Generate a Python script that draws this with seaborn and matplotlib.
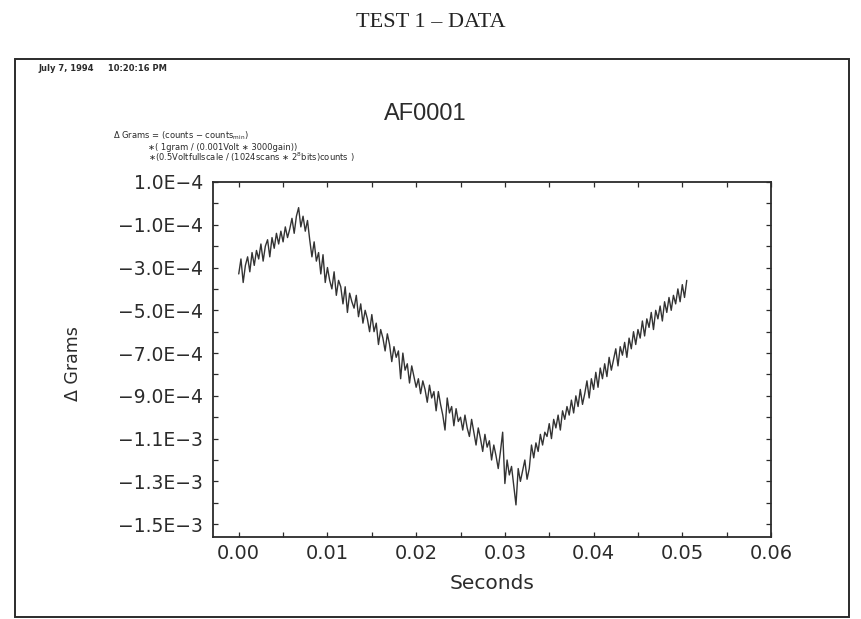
import numpy as np
import pandas as pd
import seaborn as sns
import matplotlib.pyplot as plt

# sampled balance signal, in units of 1e-4 grams, one value every 0.25 ms
sample_period = 0.00025
delta_grams_e4 = [
    -3.3, -2.6, -3.7, -2.9, -2.5, -3.2, -2.3, -2.9, -2.2, -2.6,
    -1.9, -2.7, -2.0, -1.7, -2.5, -1.6, -2.1, -1.4, -1.9, -1.3,
    -1.8, -1.1, -1.6, -1.2, -0.7, -1.4, -0.6, -0.2, -1.1,
    -0.6, -1.3, -0.8, -1.7, -2.5, -1.8, -2.7, -2.3, -3.3, -2.4, -3.7, -3.0,
    -3.6, -4.0, -3.2, -4.3, -3.6, -3.9, -4.7, -3.9, -5.1, -4.2,
    -4.6, -4.9, -4.3, -5.3, -4.7, -5.6, -5.0, -5.4, -6.0, -5.2,
    -6.0, -5.6, -6.6, -5.9, -6.3, -6.9, -6.1, -6.6, -7.4, -6.7,
    -7.2, -6.9, -8.2, -7.0, -7.8, -7.5, -8.4, -7.6, -8.1, -8.6,
    -8.2, -8.9, -8.3, -8.7, -9.3, -8.5, -9.1, -8.8, -9.7, -8.8,
    -9.4, -9.9, -10.6, -9.1, -9.8, -9.5, -10.4, -9.6, -10.2, -10.0,
    -10.6, -9.9, -10.5, -10.9, -10.1, -10.7, -11.3, -10.5, -11.0, -11.6,
    -10.8, -11.4, -11.1, -12.0, -11.3, -11.8, -12.4, -11.6, -10.7, -13.1,
    -12.0, -12.7, -12.3, -13.2, -14.1, -12.4, -13.0, -12.5, -12.0, -12.9, -12.4,
    -11.3, -11.9, -11.2, -11.6, -10.8, -11.3, -10.7, -10.9, -10.3, -11.0,
    -10.1, -10.5, -9.9, -10.6, -9.7, -10.1, -9.5, -9.9, -9.2, -9.8,
    -9.0, -9.5, -8.7, -9.4, -8.9, -8.3, -9.1, -8.2, -8.7, -7.9,
    -8.6, -7.7, -8.2, -7.5, -8.1, -7.2, -7.8, -7.3, -6.8, -7.6,
    -6.7, -7.1, -6.5, -7.2, -6.3, -6.8, -6.0, -6.6, -5.9, -6.3,
    -5.5, -6.2, -5.4, -5.8, -5.1, -5.9, -5.0, -5.4, -4.8, -5.5,
    -4.6, -5.1, -4.4, -5.0, -4.3, -4.7, -4.0, -4.6, -3.8, -4.4, -3.6,
]

x_ticks = [0.00, 0.01, 0.02, 0.03, 0.04, 0.05, 0.06]
x_tick_labels = ["0.00", "0.01", "0.02", "0.03", "0.04", "0.05", "0.06"]
y_ticks = [1e-4, -1e-4, -3e-4, -5e-4, -7e-4, -9e-4, -1.1e-3, -1.3e-3, -1.5e-3]
y_tick_labels = ["1.0E\u22124", "\u22121.0E\u22124", "\u22123.0E\u22124", "\u22125.0E\u22124",
                 "\u22127.0E\u22124", "\u22129.0E\u22124", "\u22121.1E\u22123",
                 "\u22121.3E\u22123", "\u22121.5E\u22123"]

df = pd.DataFrame({
    "Seconds": np.arange(len(delta_grams_e4)) * sample_period,
    "Grams": np.array(delta_grams_e4) * 1e-4,
})

sns.set_theme(style="white")
plt.rcParams['font.family'] = ['DejaVu Sans']
ink = "#2b2b2b"

fig = plt.figure(figsize=(8.61, 6.19), dpi=100)
ax = fig.add_axes([0.2474, 0.1325, 0.6481, 0.5735])

sns.lineplot(data=df, x="Seconds", y="Grams", ax=ax, color="#333333",
             linewidth=1.0, estimator=None)

ax.set_xlim(-0.0029, 0.06)
ax.set_ylim(-1.56e-3, 1.0e-4)
ax.set_xticks(x_ticks)
ax.set_xticklabels(x_tick_labels)
ax.set_yticks(y_ticks)
ax.set_yticklabels(y_tick_labels)
ax.set_xticks(np.array(x_ticks[:-1]) + 0.005, minor=True)
ax.set_yticks(np.array(y_ticks[:-1]) - 1e-4, minor=True)
ax.tick_params(which="both", direction="in", top=True, right=True,
               bottom=True, left=True, length=3.5, width=0.9, color=ink)
ax.tick_params(axis="x", which="major", labelsize=14, pad=5, labelcolor=ink)
ax.tick_params(axis="y", which="major", labelsize=13.5, pad=7, labelcolor=ink)
for sp in ax.spines.values():
    sp.set_color(ink)
    sp.set_linewidth(1.3)

ax.set_xlabel("Seconds", fontsize=14.5, color=ink, labelpad=8)
ax.set_ylabel("")
fig.text(0.085, 0.413, "\u0394 Grams", rotation=90, fontsize=12.5, color=ink,
         ha="center", va="center")

# page header and plotter frame
fig.text(0.5, 0.963, "TEST 1 \u2013 DATA", fontsize=16, family="Liberation Serif",
         ha="center", va="center", color="#222222")
frame = plt.Rectangle((0.0175, 0.004), 0.968, 0.901, transform=fig.transFigure,
                      fill=False, edgecolor=ink, linewidth=1.4)
fig.add_artist(frame)
fig.text(0.045, 0.89, "July 7, 1994     10:20:16 PM", fontsize=6, fontweight="bold",
         color=ink, va="center")
fig.text(0.494, 0.816, "AF0001", fontsize=17, family="Liberation Sans",
         ha="center", va="center", color=ink)
fig.text(0.131, 0.780, "\u0394 Grams = (counts \u2212 counts$_{\\mathrm{min}}$)",
         fontsize=6, color=ink, va="center")
fig.text(0.172, 0.762, "\u2217( 1gram / (0.001Volt \u2217 3000gain))",
         fontsize=6, color=ink, va="center")
fig.text(0.172, 0.746, "\u2217(0.5Voltfullscale / (1024scans \u2217 2$^{8}$bits)counts )",
         fontsize=6, color=ink, va="center")

fig.savefig("out.png", dpi=100, facecolor="white")
